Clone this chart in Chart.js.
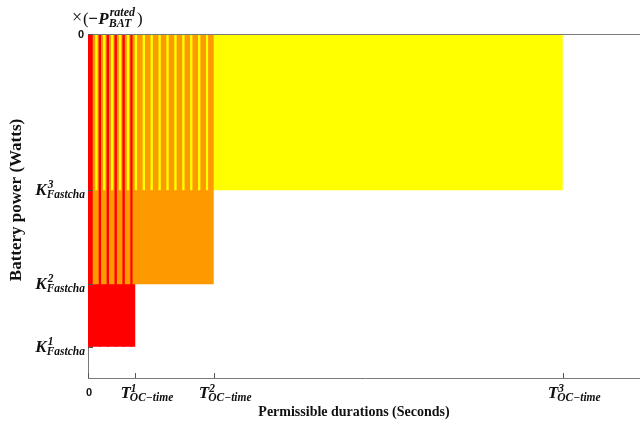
<!DOCTYPE html>
<html>
<head>
<meta charset="utf-8">
<script src="https://cdn.jsdelivr.net/npm/chart.js@4"></script>
<style>
  html, body { margin: 0; padding: 0; background: #fff; overflow: hidden; }
  #chart { display: block; }
</style>
</head>
<body>
<canvas id="chart" width="650" height="424"></canvas>
<script>
// durations in seconds, power levels in multiples of -P_rated
const tocTimes = [60, 159, 600];          // T1, T2, T3
const kLevels = [2, 1.6, 1];              // K1, K2, K3
const levelNames = ['1', '2', '3'];
const levelColors = ['#ff0000', '#ff9900', '#ffff00'];

// short pulses laid over the blocks, [start, end] in seconds
const redPulses = [[0, 6], [13.5, 16.5], [23.5, 26.5], [33.5, 36.5], [43.5, 46.5], [53.5, 56.5]];
const yellowPulses = [[9, 12], [19, 22], [29, 32], [39, 42], [49, 52], [59, 62], [69, 72], [79, 82],
  [89, 92], [99, 102], [109, 112], [119, 122], [129, 132], [139, 142], [149, 152]];

const xMax = 700;
const yMax = 2.2;

const AXIS = '#7a7a7a';
const SERIF = '"Liberation Serif", "Times New Roman", serif';
const SANS = '"Liberation Sans", Arial, sans-serif';

const hidden = { borderColor: 'rgba(0,0,0,0)', borderWidth: 0, pointRadius: 0, pointHoverRadius: 0, fill: 'origin' };

function block(i, order) {
  return Object.assign({
    data: [{ x: 0, y: kLevels[i] }, { x: tocTimes[i], y: kLevels[i] }],
    backgroundColor: levelColors[i],
    order: order
  }, hidden);
}

// each pulse is an outline 0 -> level -> level -> 0, filled back to zero
function pulseTrain(list, level, color, order) {
  const pts = [];
  list.forEach(p => {
    pts.push({ x: p[0], y: 0 }, { x: p[0], y: level }, { x: p[1], y: level }, { x: p[1], y: 0 });
  });
  return Object.assign({ data: pts, backgroundColor: color, order: order }, hidden);
}

// base text with superscript and subscript
function scriptText(ctx, base, sup, sub, x, y, o) {
  ctx.font = `italic bold ${o.size}px ${SERIF}`;
  const wBase = ctx.measureText(base).width;
  ctx.font = `italic bold ${o.small}px ${SERIF}`;
  const wSup = sup ? ctx.measureText(sup).width : 0;
  const wSub = sub ? ctx.measureText(sub).width : 0;
  const total = wBase + Math.max(wSup, wSub);
  const x0 = o.align === 'right' ? x - total : x;
  ctx.textAlign = 'left';
  ctx.textBaseline = 'alphabetic';
  ctx.font = `italic bold ${o.size}px ${SERIF}`;
  ctx.fillText(base, x0, y);
  ctx.font = `italic bold ${o.small}px ${SERIF}`;
  if (sup) ctx.fillText(sup, x0 + wBase + o.supDx, y - o.supUp);
  if (sub) ctx.fillText(sub, x0 + wBase + o.subDx, y + o.subDown);
}

const decorations = {
  id: 'decorations',
  afterDraw(chart) {
    const ctx = chart.ctx;
    const area = chart.chartArea;
    const xs = chart.scales.x, ys = chart.scales.y;
    ctx.save();

    // top edge of the box
    ctx.strokeStyle = AXIS;
    ctx.lineWidth = 1;
    ctx.beginPath();
    ctx.moveTo(area.left, area.top + 0.5);
    ctx.lineTo(area.right, area.top + 0.5);
    ctx.stroke();

    // inward ticks
    ctx.strokeStyle = '#555';
    ctx.beginPath();
    [0].concat(kLevels).forEach(v => {
      const py = Math.round(ys.getPixelForValue(v)) + 0.5;
      ctx.moveTo(area.left, py);
      ctx.lineTo(area.left + 5, py);
    });
    [0].concat(tocTimes).forEach(v => {
      const px = Math.round(xs.getPixelForValue(v)) + 0.5;
      ctx.moveTo(px, area.bottom);
      ctx.lineTo(px, area.bottom - 5);
    });
    ctx.stroke();

    ctx.fillStyle = '#111';

    // zero labels
    ctx.font = `bold 11px ${SANS}`;
    ctx.textAlign = 'right';
    ctx.textBaseline = 'middle';
    ctx.fillText('0', area.left - 4, ys.getPixelForValue(0) + 1);
    ctx.textAlign = 'center';
    ctx.textBaseline = 'alphabetic';
    ctx.fillText('0', xs.getPixelForValue(0) + 1, area.bottom + 18);

    // K levels on the power axis
    kLevels.forEach((v, i) => {
      const py = ys.getPixelForValue(v);
      scriptText(ctx, 'K', levelNames[i], 'Fastcha', area.left - 3, py + 5,
        { size: 17, small: 11.5, align: 'right', supDx: 1, supUp: 7, subDx: 0, subDown: 3 });
    });

    // T limits on the duration axis
    tocTimes.forEach((v, i) => {
      const px = xs.getPixelForValue(v);
      scriptText(ctx, 'T', levelNames[i], 'OC\u2212time', px - 15, area.bottom + 20,
        { size: 17, small: 11.5, align: 'left', supDx: 0, supUp: 6, subDx: -1, subDown: 3 });
    });

    // unit label above the power axis
    ctx.textAlign = 'left';
    ctx.font = `18px ${SERIF}`;
    ctx.fillText('\u00d7', 72, 23);
    ctx.font = `17px ${SERIF}`;
    ctx.fillText('(', 83, 24);
    ctx.font = `italic bold 17px ${SERIF}`;
    ctx.fillText('\u2212P', 88, 24);
    const wP = ctx.measureText('\u2212P').width;
    ctx.font = `italic bold 12px ${SERIF}`;
    ctx.fillText('rated', 88 + wP + 1, 16);
    const wR = ctx.measureText('rated').width;
    ctx.fillText('BAT', 88 + wP, 27);
    ctx.font = `17px ${SERIF}`;
    ctx.fillText(')', 88 + wP + wR + 3, 24);

    // axis titles
    ctx.font = `bold 14px ${SERIF}`;
    ctx.textAlign = 'center';
    ctx.textBaseline = 'middle';
    ctx.fillText('Permissible durations (Seconds)', 354, 412);
    ctx.font = `bold 17px ${SERIF}`;
    ctx.translate(17, 200);
    ctx.rotate(-Math.PI / 2);
    ctx.fillText('Battery power (Watts)', 0, 0);

    ctx.restore();
  }
};

new Chart(document.getElementById('chart'), {
  type: 'line',
  data: {
    datasets: [
      block(2, 5),                                        // K3 up to T3
      block(0, 4),                                        // K1 up to T1
      block(1, 3),                                        // K2 up to T2
      pulseTrain(redPulses, kLevels[0], levelColors[0], 2),
      pulseTrain(yellowPulses, kLevels[2], levelColors[2], 1)
    ]
  },
  options: {
    responsive: false,
    animation: false,
    events: [],
    layout: { padding: { top: 34, right: 8, left: 0, bottom: 0 } },
    plugins: { legend: { display: false }, tooltip: { enabled: false } },
    scales: {
      x: {
        type: 'linear', min: 0, max: xMax,
        ticks: { display: false },
        grid: { display: false },
        border: { color: AXIS },
        afterFit(s) { s.height = 46; }
      },
      y: {
        type: 'linear', min: 0, max: yMax, reverse: true,
        ticks: { display: false },
        grid: { display: false },
        border: { color: AXIS },
        afterFit(s) { s.width = 88; }
      }
    }
  },
  plugins: [decorations]
});
</script>
</body>
</html>
